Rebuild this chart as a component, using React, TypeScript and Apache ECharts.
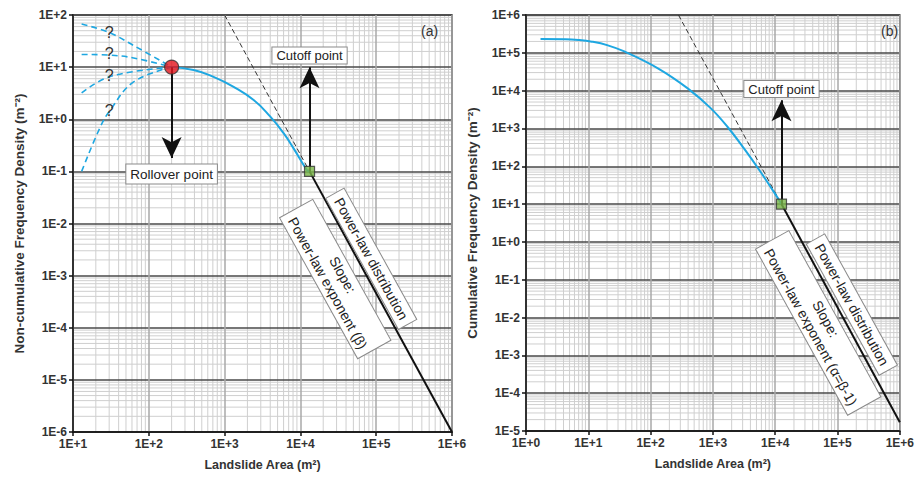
import React, { useEffect, useRef } from "react";
import * as echarts from "echarts";

// ---------- tick labels ----------
const aXTickLabels = ["1E+1", "1E+2", "1E+3", "1E+4", "1E+5", "1E+6"];
const aYTickLabels = ["1E-6", "1E-5", "1E-4", "1E-3", "1E-2", "1E-1", "1E+0", "1E+1", "1E+2"];
const bXTickLabels = ["1E+0", "1E+1", "1E+2", "1E+3", "1E+4", "1E+5", "1E+6"];
const bYTickLabels = ["1E-5", "1E-4", "1E-3", "1E-2", "1E-1", "1E+0", "1E+1", "1E+2", "1E+3", "1E+4", "1E+5", "1E+6"];

// ---------- panel (a) data ----------
const aRollover = [200, 10];
const aCutoff = [13200, 0.1];
const aPowerEnd = [1e6, 1e-6];
const aDashTop = [1000, 100];
const aCurve = [[200, 10], [390, 8.8], [716, 6.5], [1315, 4.2], [2416, 2.34], [4010, 1.12], [6000, 0.54], [8130, 0.276], [12200, 0.106], [13200, 0.1]];
const aUnc1 = [[13, 67], [30, 46], [63, 26], [200, 10]];
const aUnc2 = [[13, 17.5], [30, 17], [63, 15], [200, 10]];
const aUnc3 = [[13, 3.2], [31, 6.6], [200, 10]];
const aUnc4 = [[13, 0.1], [23, 0.72], [31, 1.5], [63, 5.2], [200, 10]];
const aQuestion = [[30, 47], [30, 18.6], [30, 7.0], [30, 1.5]];
const aRolloverArrowTip = [200, 0.18];
const aCutoffArrowTip = [13200, 10];
const aRolloverLabel = [200, 0.089];
const aCutoffLabel = [13200, 16.7];
const aDistLabel = [86000, 2.1e-3];
const aSlopeLabel = [28800, 8.6e-4];

// ---------- panel (b) data ----------
const bCutoff = [12600, 10];
const bPowerEnd = [1e6, 1.7e-5];
const bDashTop = [280, 1e6];
const bCurve = [[1.71, 2.32e5], [4.3, 2.29e5], [7.0, 2.18e5], [11.4, 1.97e5], [20, 1.6e5], [38.7, 1.07e5], [131, 3.9e4], [394, 1.15e4], [929, 3400], [1710, 1110], [3150, 297], [5800, 71.6], [10700, 15.5], [12600, 10]];
const bCutoffArrowTip = [12600, 5600];
const bCutoffLabel = [12600, 1.1e4];
const bDistLabel = [170000, 2.2e-2];
const bSlopeLabel = [49000, 7.2e-3];

const FONT = "Liberation Sans, Arial, sans-serif";
const BLUE = "#1ea7e1";

function minorValues(minExp: number, maxExp: number) {
  const out: number[] = [];
  for (let e = minExp; e < maxExp; e++) for (let k = 2; k <= 9; k++) out.push(k * Math.pow(10, e));
  return out;
}

function labelFrom(labels: string[], minExp: number) {
  return (v: number) => {
    const e = Math.round(Math.log10(v));
    return labels[e - minExp] ?? "";
  };
}

function gridSeries(idx: number, xr: number[], yr: number[]) {
  const vx = minorValues(Math.log10(xr[0]), Math.log10(xr[1]));
  const vy = minorValues(Math.log10(yr[0]), Math.log10(yr[1]));
  const style = { stroke: "#cfcfcf", lineWidth: 1 };
  return [
    {
      type: "custom", xAxisIndex: idx, yAxisIndex: idx, silent: true, z: -1,
      encode: { x: 0, y: 1 },
      data: vx.map((v) => [v, yr[0]]),
      renderItem: (_p: any, api: any) => {
        const v = api.value(0);
        const a = api.coord([v, yr[0]]);
        const b = api.coord([v, yr[1]]);
        return { type: "line", shape: { x1: a[0], y1: a[1], x2: b[0], y2: b[1] }, style };
      },
    },
    {
      type: "custom", xAxisIndex: idx, yAxisIndex: idx, silent: true, z: -1,
      encode: { x: 0, y: 1 },
      data: vy.map((v) => [xr[0], v]),
      renderItem: (_p: any, api: any) => {
        const v = api.value(1);
        const a = api.coord([xr[0], v]);
        const b = api.coord([xr[1], v]);
        return { type: "line", shape: { x1: a[0], y1: a[1], x2: b[0], y2: b[1] }, style };
      },
    },
  ];
}

const boxLabel = {
  show: true,
  position: "inside",
  color: "#222",
  fontFamily: FONT,
  fontSize: 13,
  backgroundColor: "#fff",
  borderColor: "#8a8a8a",
  borderWidth: 1,
  padding: [2, 4, 1, 4],
};

const rotLabel = { rotate: -61, fontSize: 14, align: "center", lineHeight: 17, padding: [2, 6, 1, 6] };

function textPoint(coord: number[], text: string, extra: any = {}) {
  return { coord, value: 0, label: { ...boxLabel, formatter: text, ...extra } };
}

function axisX(idx: number, min: number, max: number, labels: string[]) {
  return {
    type: "log", logBase: 10, gridIndex: idx, min, max, interval: 1,
    name: "Landslide Area (m²)", nameLocation: "middle", nameGap: 26,
    nameTextStyle: { fontFamily: FONT, fontWeight: "bold", fontSize: 12.5, color: "#333" },
    axisLine: { show: true, onZero: false, lineStyle: { color: "#111", width: 1.5 } },
    axisTick: { show: true, length: 4, lineStyle: { color: "#111", width: 1.5 } },
    axisLabel: { formatter: labelFrom(labels, Math.log10(min)), fontFamily: FONT, fontWeight: "bold", fontSize: 12, color: "#333", margin: 6 },
    splitLine: { show: true, lineStyle: { color: "#a8a8a8", width: 1.5 } },
  };
}

function axisY(idx: number, min: number, max: number, labels: string[], name: string) {
  return {
    type: "log", logBase: 10, gridIndex: idx, min, max, interval: 1,
    name, nameLocation: "middle", nameGap: 47, nameRotate: 90,
    nameTextStyle: { fontFamily: FONT, fontWeight: "bold", fontSize: 13.5, color: "#333" },
    axisLine: { show: true, onZero: false, lineStyle: { color: "#111", width: 1.5 } },
    axisTick: { show: true, length: 4, lineStyle: { color: "#111", width: 1.5 } },
    axisLabel: { formatter: labelFrom(labels, Math.log10(min)), fontFamily: FONT, fontWeight: "bold", fontSize: 12, color: "#333", margin: 6 },
    splitLine: { show: true, lineStyle: { color: "#4a4a4a", width: 1.5 } },
  };
}

const arrowMark = (from: number[], to: number[]) => ({
  silent: true,
  symbol: ["none", "arrow"],
  symbolSize: [15, 21],
  label: { show: false },
  lineStyle: { color: "#111", width: 2, type: "solid" },
  data: [[{ coord: from }, { coord: to }]],
});

export default function App() {
  const ref = useRef<HTMLDivElement>(null);
  useEffect(() => {
    if (!ref.current) return;
    const chart = echarts.init(ref.current, undefined, { renderer: "svg" });
    const ax: [number, number] = [10, 1e6];
    const ay: [number, number] = [1e-6, 100];
    const bx: [number, number] = [1, 1e6];
    const by: [number, number] = [1e-5, 1e6];

    const option: any = {
      animation: false,
      backgroundColor: "#fff",
      textStyle: { fontFamily: FONT },
      title: [
        { text: "(a)", left: 416, top: 19, textStyle: { fontFamily: FONT, fontWeight: "normal", fontSize: 14, color: "#333" } },
        { text: "(b)", left: 876, top: 19, textStyle: { fontFamily: FONT, fontWeight: "normal", fontSize: 14, color: "#333" } },
      ],
      grid: [
        { left: 73, top: 15, width: 379, height: 417, show: true, borderColor: "#333", borderWidth: 1.5, backgroundColor: "transparent" },
        { left: 526, top: 15, width: 377, height: 416, show: true, borderColor: "#333", borderWidth: 1.5, backgroundColor: "transparent" },
      ],
      xAxis: [axisX(0, ax[0], ax[1], aXTickLabels), axisX(1, bx[0], bx[1], bXTickLabels)],
      yAxis: [
        axisY(0, ay[0], ay[1], aYTickLabels, "Non-cumulative Frequency Density (m⁻²)"),
        axisY(1, by[0], by[1], bYTickLabels, "Cumulative Frequency Density (m⁻²)"),
      ],
      series: [
        ...gridSeries(0, ax, ay),
        ...gridSeries(1, bx, by),
        // ---- panel (a) ----
        { type: "line", xAxisIndex: 0, yAxisIndex: 0, data: [aDashTop, aCutoff], showSymbol: false, silent: true,
          lineStyle: { color: "#333", width: 1, type: [5, 3] } },
        ...[aUnc1, aUnc2, aUnc3, aUnc4].map((d) => ({
          type: "line", xAxisIndex: 0, yAxisIndex: 0, data: d, smooth: 0.4, showSymbol: false, silent: true,
          lineStyle: { color: BLUE, width: 1.6, type: [6, 4] },
        })),
        { type: "line", xAxisIndex: 0, yAxisIndex: 0, data: aCurve, smooth: 0.5, showSymbol: false, silent: true,
          lineStyle: { color: BLUE, width: 2 } },
        { type: "line", xAxisIndex: 0, yAxisIndex: 0, data: [aCutoff, aPowerEnd], showSymbol: false, silent: true,
          lineStyle: { color: "#111", width: 2 } },
        { type: "line", xAxisIndex: 0, yAxisIndex: 0, data: [aRollover], symbol: "none", silent: true,
          lineStyle: { width: 0 },
          markLine: arrowMark(aRollover, aRolloverArrowTip),
          markPoint: {
            symbol: "rect", symbolSize: 0, silent: true,
            data: [
              textPoint(aRolloverLabel, "Rollover point", { fontSize: 13.5, padding: [3, 4, 2, 4] }),
              ...aQuestion.map((q) => ({ coord: q, value: 0, label: { show: true, position: "inside", formatter: "?", fontFamily: FONT, fontSize: 16, color: "#333" } })),
              textPoint(aDistLabel, "Power-law distribution", rotLabel),
              textPoint(aSlopeLabel, "Slope:\nPower-law exponent (β)", rotLabel),
            ],
          },
        },
        { type: "line", xAxisIndex: 0, yAxisIndex: 0, data: [aCutoff], symbol: "none", silent: true,
          lineStyle: { width: 0 },
          markLine: arrowMark(aCutoff, aCutoffArrowTip),
          markPoint: { symbol: "rect", symbolSize: 0, silent: true, data: [textPoint(aCutoffLabel, "Cutoff point")] },
        },
        { type: "scatter", xAxisIndex: 0, yAxisIndex: 0, data: [aRollover], symbol: "circle", symbolSize: 14, silent: true, z: 5,
          itemStyle: { color: "#e3141b", borderColor: "#333", borderWidth: 1.2 } },
        { type: "scatter", xAxisIndex: 0, yAxisIndex: 0, data: [aCutoff], symbol: "rect", symbolSize: 10, silent: true, z: 5,
          itemStyle: { color: "#7ab648", borderColor: "#333", borderWidth: 1.2 } },
        // ---- panel (b) ----
        { type: "line", xAxisIndex: 1, yAxisIndex: 1, data: [bDashTop, bCutoff], showSymbol: false, silent: true,
          lineStyle: { color: "#333", width: 1, type: [5, 3] } },
        { type: "line", xAxisIndex: 1, yAxisIndex: 1, data: bCurve, smooth: 0.4, showSymbol: false, silent: true,
          lineStyle: { color: BLUE, width: 2 } },
        { type: "line", xAxisIndex: 1, yAxisIndex: 1, data: [bCutoff, bPowerEnd], showSymbol: false, silent: true,
          lineStyle: { color: "#111", width: 2 } },
        { type: "line", xAxisIndex: 1, yAxisIndex: 1, data: [bCutoff], symbol: "none", silent: true,
          lineStyle: { width: 0 },
          markLine: arrowMark(bCutoff, bCutoffArrowTip),
          markPoint: {
            symbol: "rect", symbolSize: 0, silent: true,
            data: [
              textPoint(bCutoffLabel, "Cutoff point"),
              textPoint(bDistLabel, "Power-law distribution", rotLabel),
              textPoint(bSlopeLabel, "Slope:\nPower-law exponent (α=β-1)", rotLabel),
            ],
          },
        },
        { type: "scatter", xAxisIndex: 1, yAxisIndex: 1, data: [bCutoff], symbol: "rect", symbolSize: 10, silent: true, z: 5,
          itemStyle: { color: "#7ab648", borderColor: "#333", borderWidth: 1.2 } },
      ],
    };
    chart.setOption(option);
    return () => chart.dispose();
  }, []);
  return <div ref={ref} style={{ position: "fixed", left: 0, top: 0, width: 917, height: 477 }} />;
}
